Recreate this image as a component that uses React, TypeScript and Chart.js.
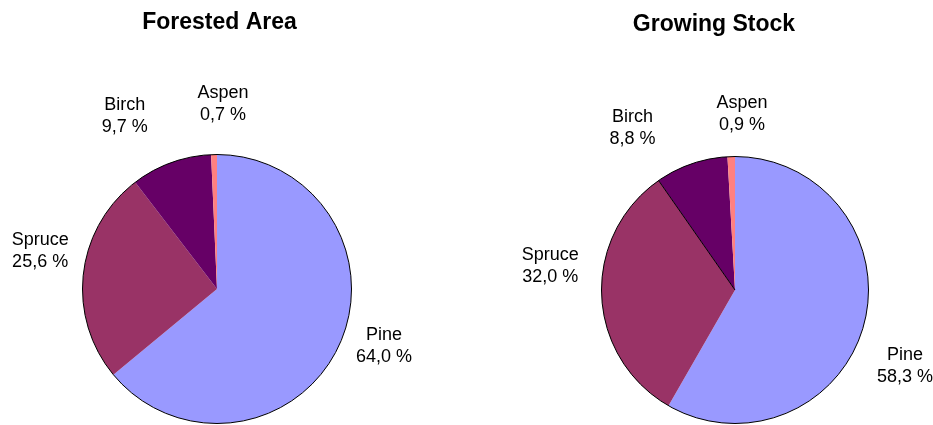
import React, { useEffect, useRef } from 'react';
import { Chart, registerables } from 'chart.js';

Chart.register(...registerables);

// ---- Data ----
const species = ['Pine', 'Spruce', 'Birch', 'Aspen'];
const forestedArea = [64.0, 25.6, 9.7, 0.7];
const growingStock = [58.3, 32.0, 8.8, 0.9];
const sliceColors = ['#9999FF', '#993366', '#660066', '#FF8080'];

// ---- Layout (label nudges relative to a radial anchor) ----
const leftNudges = [[5, -19], [1, -18], [-31, -5], [10, -6]];
const rightNudges = [[-3, 30], [-6, -32], [-44, 7], [12, 3]];

const FONT = '"Liberation Sans", Arial, sans-serif';

function fmt(v: number) {
  return v.toFixed(1).replace('.', ',') + ' %';
}

function makePlugin(
  title: string,
  titleX: number,
  titleBaseline: number,
  nudges: number[][],
  labelR: number,
  separators: number[]
) {
  return {
    id: 'pieDecor',
    afterDatasetsDraw(chart: any) {
      const ctx = chart.ctx as CanvasRenderingContext2D;
      const meta = chart.getDatasetMeta(0);
      const first = meta.data[0];
      if (!first) return;
      const p = first.getProps(['x', 'y', 'outerRadius'], true);
      ctx.save();
      // slice separators (edge lines)
      ctx.strokeStyle = '#000';
      ctx.lineWidth = 1;
      separators.forEach((idx) => {
        const arc = meta.data[idx];
        const a = arc.getProps(['startAngle'], true);
        ctx.beginPath();
        ctx.moveTo(p.x, p.y);
        ctx.lineTo(p.x + Math.cos(a.startAngle) * p.outerRadius, p.y + Math.sin(a.startAngle) * p.outerRadius);
        ctx.stroke();
      });
      // outer outline
      ctx.beginPath();
      ctx.arc(p.x, p.y, p.outerRadius, 0, Math.PI * 2);
      ctx.stroke();

      // title
      ctx.fillStyle = '#000';
      ctx.font = `bold 23px ${FONT}`;
      ctx.textAlign = 'center';
      ctx.textBaseline = 'alphabetic';
      ctx.fillText(title, titleX, titleBaseline);

      // labels
      ctx.font = `18px ${FONT}`;
      ctx.textBaseline = 'middle';
      const values = chart.data.datasets[0].data as number[];
      meta.data.forEach((arc: any, i: number) => {
        const a = arc.getProps(['startAngle', 'endAngle'], true);
        const mid = (a.startAngle + a.endAngle) / 2;
        const cx = p.x + Math.cos(mid) * labelR + nudges[i][0];
        const cy = p.y + Math.sin(mid) * labelR + nudges[i][1];
        ctx.fillText(String(chart.data.labels[i]), cx, cy - 11);
        ctx.fillText(fmt(values[i]), cx, cy + 11);
      });
      ctx.restore();
    },
  };
}

function PieChart(props: {
  values: number[];
  width: number;
  padding: { left: number; top: number; right: number; bottom: number };
  title: string;
  titleX: number;
  titleBaseline: number;
  nudges: number[][];
  separators: number[];
}) {
  const ref = useRef<HTMLCanvasElement | null>(null);
  useEffect(() => {
    if (!ref.current) return;
    const chart = new Chart(ref.current, {
      type: 'pie',
      data: {
        labels: species,
        datasets: [
          {
            data: props.values,
            backgroundColor: sliceColors,
            borderWidth: 0,
          },
        ],
      },
      options: {
        responsive: false,
        animation: false,
        devicePixelRatio: 1,
        layout: { padding: props.padding },
        plugins: {
          legend: { display: false },
          tooltip: { enabled: false },
          title: { display: false },
        },
      },
      plugins: [
        makePlugin(props.title, props.titleX, props.titleBaseline, props.nudges, 179, props.separators),
      ],
    } as any);
    return () => chart.destroy();
  }, []);
  return (
    <canvas
      ref={ref}
      width={props.width}
      height={425}
      style={{ width: props.width, height: 425, display: 'block' }}
    />
  );
}

export default function App() {
  return (
    <div style={{ position: 'fixed', left: 0, top: 0, width: 933, height: 425, background: '#fff' }}>
      <div style={{ position: 'absolute', left: 0, top: 0 }}>
        <PieChart
          values={forestedArea}
          width={466}
          padding={{ left: 82.5, top: 154.5, right: 114.5, bottom: 1.5 }}
          title="Forested Area"
          titleX={219.5}
          titleBaseline={28.7}
          nudges={leftNudges}
          separators={[]}
        />
      </div>
      <div style={{ position: 'absolute', left: 466, top: 0 }}>
        <PieChart
          values={growingStock}
          width={467}
          padding={{ left: 135.5, top: 156.5, right: 64.5, bottom: 1.5 }}
          title="Growing Stock"
          titleX={248}
          titleBaseline={31}
          nudges={rightNudges}
          separators={[2]}
        />
      </div>
    </div>
  );
}
